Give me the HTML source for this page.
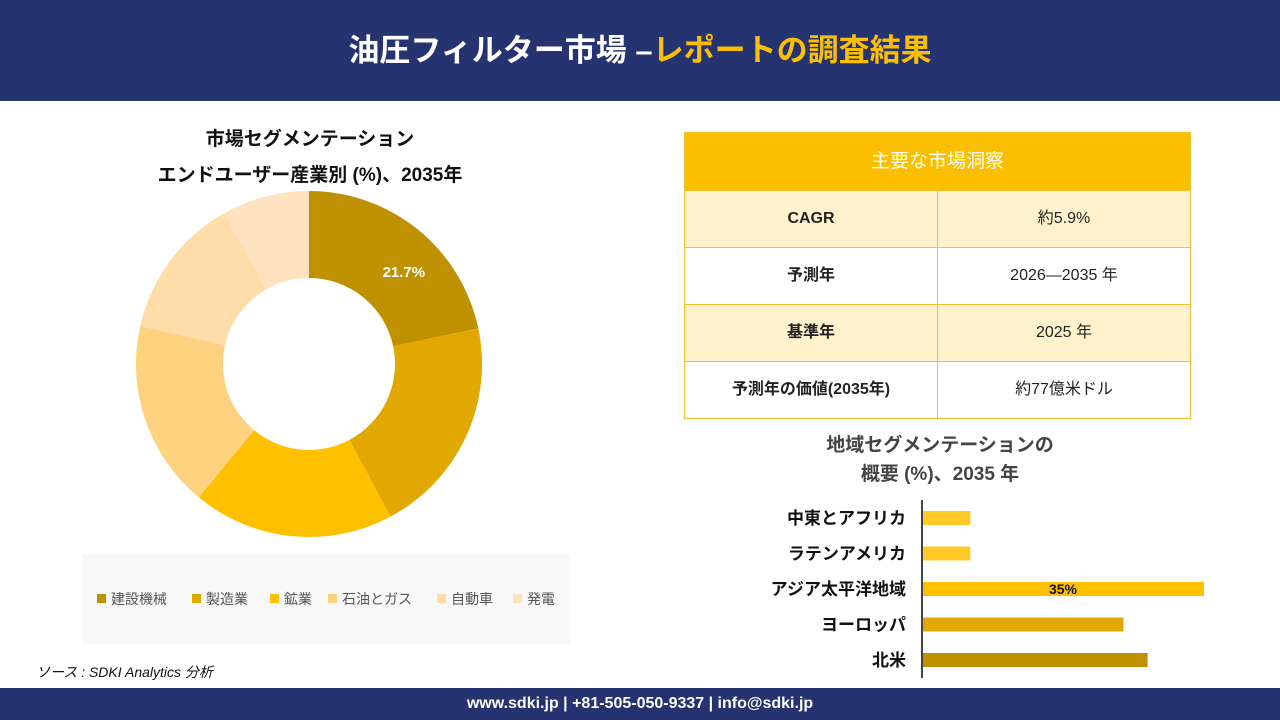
<!DOCTYPE html>
<html><head><meta charset="utf-8">
<style>
body{margin:0;width:1280px;height:720px;position:relative;background:#fff;font-family:"Liberation Sans","Noto Sans CJK JP",sans-serif;overflow:hidden}
.abs{position:absolute}
#hdr{left:0;top:0;width:1280px;height:101px;background:#253370;color:#fff;font-size:31px;font-weight:bold;text-align:center;line-height:101px}
#ftr{left:0;top:688px;width:1280px;height:32px;background:#253370;color:#fff;font-size:16px;font-weight:bold;text-align:center;line-height:32px}
.t{font-weight:bold;font-size:19px;color:#111;text-align:center}
table{border-collapse:collapse;table-layout:fixed}
td{border:1px solid #f2c230;height:57px;padding:0;line-height:20px;text-align:center;font-size:16px;color:#222;box-sizing:border-box}
</style></head><body>
<div id="hdr" class="abs">油圧フィルター市場 –<span style="color:#fbbf00">レポートの調査結果</span></div>

<div class="abs t" style="left:130px;top:122px;width:360px;line-height:36px">市場セグメンテーション<br>エンドユーザー産業別 (%)、2035年</div>
<svg class="abs" style="left:0;top:0" width="640" height="690">
<rect x="82" y="554" width="488" height="90" fill="#f8f8f8"/>
<g id="donut"></g><g id="legend"></g>
</svg>
<div class="abs" style="left:36px;top:662px;font-size:14px;font-style:italic;color:#111">ソース : SDKI Analytics 分析</div>

<table class="abs" style="left:684px;top:132px;width:507px">
<tr><td colspan="2" style="background:#fbbf00;color:#fff;font-size:19px;height:58px">主要な市場洞察</td></tr>
<tr style="background:#fff2cc"><td style="font-weight:bold;width:50%">CAGR</td><td>約5.9%</td></tr>
<tr><td style="font-weight:bold">予測年</td><td>2026—2035 年</td></tr>
<tr style="background:#fff2cc"><td style="font-weight:bold">基準年</td><td>2025 年</td></tr>
<tr><td style="font-weight:bold">予測年の価値(2035年)</td><td>約77億米ドル</td></tr>
</table>

<div class="abs t" style="left:760px;top:431px;width:360px;line-height:29px;color:#444">地域セグメンテーションの<br>概要 (%)、2035 年</div>
<svg class="abs" style="left:640px;top:490px" width="640" height="195">
<g id="bars"></g>
<line x1="282" y1="10" x2="282" y2="188" stroke="#444" stroke-width="2"/>
</svg>

<div id="ftr" class="abs">www.sdki.jp | +81-505-050-9337 | info@sdki.jp</div>

<script>
const segLabels=["建設機械","製造業","鉱業","石油とガス","自動車","発電"];
const segValues=[21.7,20.5,18.8,17.5,13.3,8.2];
const segColors=["#bf9000","#e0a800","#ffc000","#ffd27f","#ffdca8","#ffe2c0"];
const regions=["中東とアフリカ","ラテンアメリカ","アジア太平洋地域","ヨーロッパ","北米"];
const regionValues=[6,6,35,25,28];
const regionColors=["#ffca28","#ffca28","#ffc000","#e0a800","#bf9000"];
const NS="http://www.w3.org/2000/svg";
const cx=309,cy=364,R=173,r=86;
const total=segValues.reduce((a,b)=>a+b,0);
let a0=0;const dg=document.getElementById('donut');
function pt(a,rad){return [cx+rad*Math.sin(a),cy-rad*Math.cos(a)];}
segValues.forEach((v,i)=>{
 const a1=a0+v/total*2*Math.PI;const lg=(a1-a0)>Math.PI?1:0;
 const p1=pt(a0,R),p2=pt(a1,R),p3=pt(a1,r),p4=pt(a0,r);
 const p=document.createElementNS(NS,'path');
 p.setAttribute('d',`M${p1}A${R},${R} 0 ${lg} 1 ${p2}L${p3}A${r},${r} 0 ${lg} 0 ${p4}Z`);
 p.setAttribute('fill',segColors[i]);
 
 
 dg.appendChild(p);
 if(i===0){const m=(a0+a1)/2+0.12;const q=pt(m,132);const t=document.createElementNS(NS,'text');
  t.setAttribute('x',q[0]);t.setAttribute('y',q[1]+5);t.setAttribute('fill','#fff');t.setAttribute('font-weight','bold');t.setAttribute('font-size','15');t.setAttribute('text-anchor','middle');
  t.textContent=v+'%';
  
  
  dg.appendChild(t);}
 a0=a1;
});
const lgX=[97,192,270,328,437,513];
const lg=document.getElementById('legend');
segLabels.forEach((s,i)=>{
 const g=document.createElementNS(NS,'g');
 
 
 g.innerHTML=`<rect x="${lgX[i]}" y="594" width="9" height="9" fill="${segColors[i]}"/><text x="${lgX[i]+14}" y="604" font-size="14" fill="#555">${s}</text>`;
 lg.appendChild(g);
});
const bg=document.getElementById('bars');const x0=282,sc=282/35;
regions.forEach((s,i)=>{
 const y=28+i*35.5;
 const b=document.createElementNS(NS,'rect');
 b.setAttribute('x',x0);b.setAttribute('y',y-7);b.setAttribute('width',regionValues[i]*sc);b.setAttribute('height',14);b.setAttribute('fill',regionColors[i]);
 
 
 bg.appendChild(b);
 const t=document.createElementNS(NS,'text');
 t.setAttribute('x',266);t.setAttribute('y',y+6);t.setAttribute('text-anchor','end');t.setAttribute('font-size','17');t.setAttribute('font-weight','bold');t.setAttribute('fill','#111');
 t.textContent=s;
 
 
 bg.appendChild(t);
 if(regionValues[i]===Math.max(...regionValues)){const v=document.createElementNS(NS,'text');
  v.setAttribute('x',x0+regionValues[i]*sc/2);v.setAttribute('y',y+5);v.setAttribute('text-anchor','middle');v.setAttribute('font-size','14');v.setAttribute('font-weight','bold');v.setAttribute('fill','#111');
  v.textContent=regionValues[i]+'%';
  
  
  bg.appendChild(v);}
});
</script>
</body></html>
